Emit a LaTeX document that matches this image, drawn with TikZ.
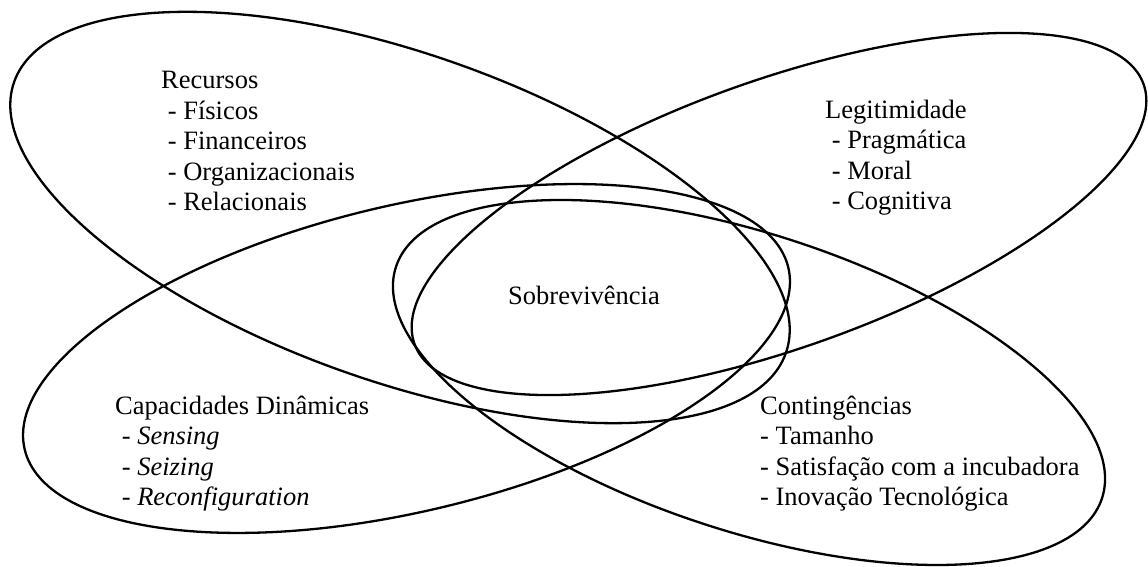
\documentclass[tikz,border=0pt]{standalone}
\usepackage{fontspec}
\setmainfont{Liberation Serif}
\tikzset{
  every node/.style={font=\fontsize{26.5}{30.5}\selectfont, text=black},
  ring/.style={draw=black, line width=2.3pt},
  factor/.style={align=left, inner sep=0pt, anchor=base west}
}

\begin{document}
\begin{tikzpicture}[x=1pt,y=1pt]
  \useasboundingbox (0,0) rectangle (1148,567);

  % the four overlapping ellipses
  \foreach \cx/\cy/\ang/\ra/\rb in {
    400/349.5/-19.35/409/164,
    406.5/208.5/13.4/392.5/153,
    779/353/19.6/387/134,
    749/184.5/-18.15/371.5/148.5
  }{
    \draw[ring, rotate around={\ang:(\cx,\cy)}] (\cx,\cy) ellipse [x radius=\ra, y radius=\rb];
  }

  % base anchor sits on the last line of each block
  \node[factor] (recursos) at (161,356)
    {Recursos\\\ - Físicos\\\ - Financeiros\\\ - Organizacionais\\\ - Relacionais};
  \node[factor] (legitimidade) at (825,357)
    {Legitimidade\\\ - Pragmática\\\ - Moral\\\ - Cognitiva};
  \node[factor] (capacidades) at (115,61)
    {Capacidades Dinâmicas\\\ - \textit{Sensing}\\\ - \textit{Seizing}\\\ - \textit{Reconfiguration}};
  \node[factor] (contingencias) at (760,61)
    {Contingências\\- Tamanho\\- Satisfação com a incubadora\\- Inovação Tecnológica};
  \node[factor] (sobrevivencia) at (508,262) {Sobrevivência};
\end{tikzpicture}
\end{document}
